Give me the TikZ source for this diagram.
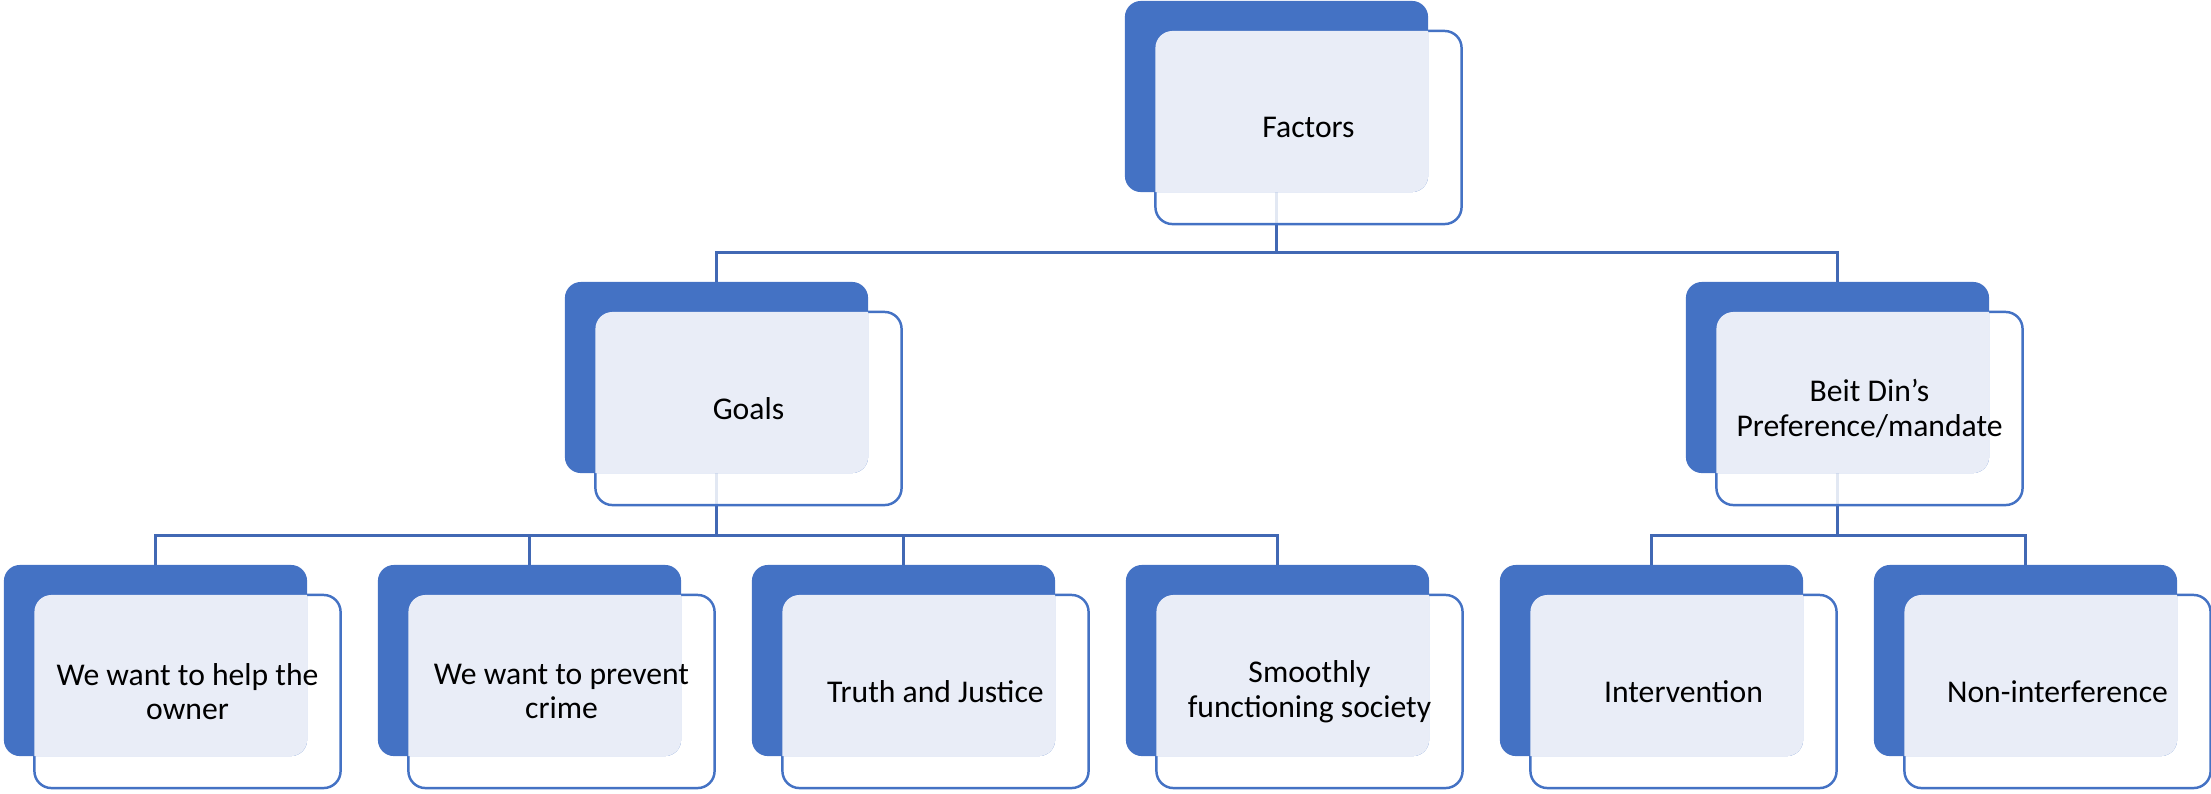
\documentclass[tikz,border=0pt]{standalone}
\usepackage{fontspec}
\setmainfont{Carlito}
\usetikzlibrary{calc}
\definecolor{accent}{HTML}{4472C4}
\definecolor{lightfill}{HTML}{E9EDF7}
\definecolor{connblue}{HTML}{4168B4}
\pgfdeclarelayer{background}
\pgfsetlayers{background,main}
\tikzset{
 backbox/.style={rectangle, rounded corners=0.16cm, fill=accent, minimum width=3.03cm, minimum height=1.91cm, inner sep=0pt, outer sep=0pt},
 frontbox/.style={rectangle, rounded corners=0.17cm, draw=accent, line width=0.7pt, fill=white, fill opacity=0.85, minimum width=3.06cm, minimum height=1.93cm, inner sep=0pt, outer sep=0pt},
 boxtext/.style={align=center, text=black, font=\fontsize{9}{9.8}\selectfont, inner sep=0pt},
 conn/.style={draw=connblue, line width=0.75pt},
}
\newcommand{\pairbox}[4]{%
  \node[frontbox] (#1f) at (#2+32,#3+31) {};
  \node[backbox] (#1) at (#2,#3) {};
  \begin{scope}
    \clip[rounded corners=0.17cm] (#1f.south west) rectangle (#1f.north east);
    \fill[lightfill, rounded corners=0.16cm] (#1.south west) rectangle (#1.north east);
  \end{scope}
  \node[boxtext] (#1t) at (#1f.center) {#4};
}
\begin{document}
\begin{tikzpicture}[x=0.01cm, y=-0.01cm]
\useasboundingbox (0,0) rectangle (2211,793);
\pairbox{fac}{1276.5}{96.5}{Factors}
\pairbox{goa}{716.5}{377.5}{Goals}
\pairbox{bei}{1837.5}{377.5}{Beit Din’s\\Preference/mandate}
\pairbox{ca}{155.5}{660.5}{We want to help the\\owner}
\pairbox{cb}{529.5}{660.5}{We want to prevent\\crime}
\pairbox{cc}{903.5}{660.5}{Truth and Justice}
\pairbox{cd}{1277.5}{660.5}{Smoothly\\functioning society}
\pairbox{ce}{1651.5}{660.5}{Intervention}
\pairbox{cf}{2025.5}{660.5}{Non-interference}
\begin{pgfonlayer}{background}
\coordinate (L1) at (0,252.5);
\coordinate (L2) at (0,535.5);
\draw[conn] (fac.south) -- (fac.south |- L1) -| (goa.north);
\draw[conn] (fac.south |- L1) -| (bei.north);
\draw[conn] (goa.south) -- (goa.south |- L2) -| (ca.north);
\draw[conn] (goa.south |- L2) -| (cb.north);
\draw[conn] (goa.south |- L2) -| (cc.north);
\draw[conn] (goa.south |- L2) -| (cd.north);
\draw[conn] (bei.south) -- (bei.south |- L2) -| (ce.north);
\draw[conn] (bei.south |- L2) -| (cf.north);
\end{pgfonlayer}
\end{tikzpicture}
\end{document}
